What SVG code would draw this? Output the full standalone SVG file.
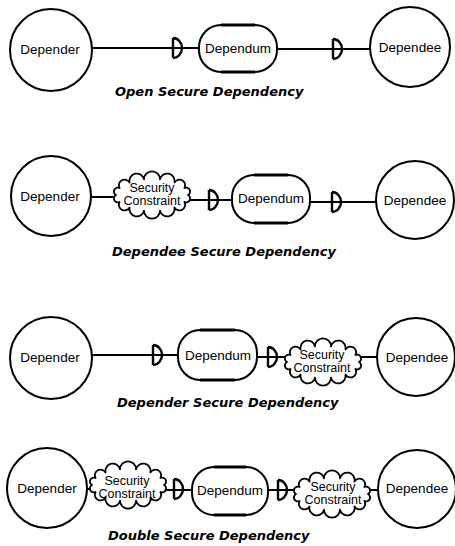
<svg xmlns="http://www.w3.org/2000/svg" xmlns:xlink="http://www.w3.org/1999/xlink" width="455" height="546" viewBox="0 0 455 546">
  <style>
    .actor { fill: #fff; stroke: #000; stroke-width: 2; }
    .dum { fill: #fff; stroke: #000; stroke-width: 2; }
    .dum-edge { stroke: #000; stroke-width: 3; fill: none; }
    .cloud { fill: #fff; stroke: #000; stroke-width: 1.8; stroke-linejoin: round; }
    .link { stroke: #000; stroke-width: 2; fill: none; }
    .dmark { stroke: #000; stroke-width: 2.4; fill: none; }
    .name { font-family: "Liberation Sans", Arial, sans-serif; font-size: 13.5px; fill: #000; text-anchor: middle; }
    .cname { font-family: "Liberation Sans", Arial, sans-serif; font-size: 12.5px; fill: #000; text-anchor: middle; }
    .caption { font-family: "DejaVu Sans", sans-serif; font-size: 13px; font-weight: bold; font-style: italic; fill: #000; }
  </style>
  <defs>
    <!-- "D" dependency mark, flat side at x=0, centred vertically -->
    <path id="dm" class="dmark" d="M0,-10 V10 M0,-10 A9,10 0 0 1 0,10"/>
    <!-- scalloped cloud outline centred at the origin -->
    <path id="cloudShape" class="cloud" d="M36,0 A1,1 0 0 1 32.44,6.94 A1,1 0 0 1 22.45,12.51 A1,1 0 0 1 8.01,15.6 A1,1 0 0 1 -8.01,15.6 A1,1 0 0 1 -22.45,12.51 A1,1 0 0 1 -32.44,6.94 A1,1 0 0 1 -36,0 A1,1 0 0 1 -32.44,-6.94 A1,1 0 0 1 -22.45,-12.51 A1,1 0 0 1 -8.01,-15.6 A1,1 0 0 1 8.01,-15.6 A1,1 0 0 1 22.45,-12.51 A1,1 0 0 1 32.44,-6.94 A1,1 0 0 1 36,0 Z"/>
  </defs>

  <!-- connectors -->
  <g id="connectors">
    <!-- row 1 -->
    <line class="link" x1="92" y1="48" x2="199" y2="48"/>
    <use xlink:href="#dm" href="#dm" x="173" y="48"/>
    <line class="link" x1="277" y1="49" x2="370" y2="49"/>
    <use xlink:href="#dm" href="#dm" x="333" y="49"/>
    <!-- row 2 -->
    <line class="link" x1="91" y1="197" x2="116" y2="197"/>
    <line class="link" x1="188" y1="200" x2="232" y2="200"/>
    <use xlink:href="#dm" href="#dm" x="209" y="200"/>
    <line class="link" x1="310" y1="202" x2="376" y2="202"/>
    <use xlink:href="#dm" href="#dm" x="332" y="202"/>
    <!-- row 3 -->
    <line class="link" x1="92" y1="355" x2="178" y2="355"/>
    <use xlink:href="#dm" href="#dm" x="153" y="355"/>
    <line class="link" x1="257" y1="357" x2="288" y2="357"/>
    <use xlink:href="#dm" href="#dm" x="268" y="357"/>
    <line class="link" x1="358" y1="357" x2="377" y2="357"/>
    <!-- row 4 -->
    <line class="link" x1="87" y1="489" x2="92" y2="489"/>
    <line class="link" x1="164" y1="490" x2="192" y2="490"/>
    <use xlink:href="#dm" href="#dm" x="174" y="489"/>
    <line class="link" x1="268" y1="490" x2="296" y2="490"/>
    <use xlink:href="#dm" href="#dm" x="278" y="490"/>
    <line class="link" x1="368" y1="490" x2="378" y2="490"/>
  </g>

  <!-- row 1: Open Secure Dependency -->
  <g id="r1-depender">
    <circle class="actor" cx="51" cy="50" r="41"/>
    <text class="name" x="50" y="54">Depender</text>
  </g>
  <g id="r1-dependum">
    <rect class="dum" x="199" y="25" width="78" height="47" rx="22" ry="22"/>
    <path class="dum-edge" d="M221,25 H255 M221,72 H255"/>
    <text class="name" x="238" y="53">Dependum</text>
  </g>
  <g id="r1-dependee">
    <circle class="actor" cx="410" cy="47" r="40"/>
    <text class="name" x="410" y="52">Dependee</text>
  </g>
  <text class="caption" x="115" y="96">Open Secure Dependency</text>

  <!-- row 2: Dependee Secure Dependency -->
  <g id="r2-depender">
    <circle class="actor" cx="51" cy="196" r="40"/>
    <text class="name" x="50" y="201">Depender</text>
  </g>
  <g id="r2-constraint">
    <use xlink:href="#cloudShape" href="#cloudShape" x="152" y="195"/>
    <text class="cname" x="152" y="192">Security</text>
    <text class="cname" x="152" y="205">Constraint</text>
  </g>
  <g id="r2-dependum">
    <rect class="dum" x="232" y="175" width="78" height="48" rx="22" ry="22"/>
    <path class="dum-edge" d="M254,175 H288 M254,223 H288"/>
    <text class="name" x="271" y="203">Dependum</text>
  </g>
  <g id="r2-dependee">
    <circle class="actor" cx="415" cy="200" r="39"/>
    <text class="name" x="415" y="205">Dependee</text>
  </g>
  <text class="caption" x="112" y="256">Dependee Secure Dependency</text>

  <!-- row 3: Depender Secure Dependency -->
  <g id="r3-depender">
    <circle class="actor" cx="51" cy="358" r="41"/>
    <text class="name" x="50" y="362">Depender</text>
  </g>
  <g id="r3-dependum">
    <rect class="dum" x="178" y="330" width="79" height="50" rx="22" ry="23"/>
    <path class="dum-edge" d="M200,330 H235 M200,380 H235"/>
    <text class="name" x="218" y="360">Dependum</text>
  </g>
  <g id="r3-constraint">
    <use xlink:href="#cloudShape" href="#cloudShape" x="323" y="362"/>
    <text class="cname" x="322" y="359">Security</text>
    <text class="cname" x="322" y="372">Constraint</text>
  </g>
  <g id="r3-dependee">
    <circle class="actor" cx="416" cy="357" r="39"/>
    <text class="name" x="417" y="362">Dependee</text>
  </g>
  <text class="caption" x="117" y="407">Depender Secure Dependency</text>

  <!-- row 4: Double Secure Dependency -->
  <g id="r4-depender">
    <circle class="actor" cx="47" cy="488" r="40"/>
    <text class="name" x="47" y="493">Depender</text>
  </g>
  <g id="r4-constraint-a">
    <use xlink:href="#cloudShape" href="#cloudShape" x="128" y="485"/>
    <text class="cname" x="127" y="485">Security</text>
    <text class="cname" x="127" y="498">Constraint</text>
  </g>
  <g id="r4-dependum">
    <rect class="dum" x="192" y="467" width="76" height="48" rx="22" ry="22"/>
    <path class="dum-edge" d="M214,467 H246 M214,515 H246"/>
    <text class="name" x="230" y="495">Dependum</text>
  </g>
  <g id="r4-constraint-b">
    <use xlink:href="#cloudShape" href="#cloudShape" x="332" y="494"/>
    <text class="cname" x="333" y="491">Security</text>
    <text class="cname" x="333" y="504">Constraint</text>
  </g>
  <g id="r4-dependee">
    <circle class="actor" cx="417" cy="489" r="39"/>
    <text class="name" x="417" y="493">Dependee</text>
  </g>
  <text class="caption" x="108" y="540">Double Secure Dependency</text>
</svg>
